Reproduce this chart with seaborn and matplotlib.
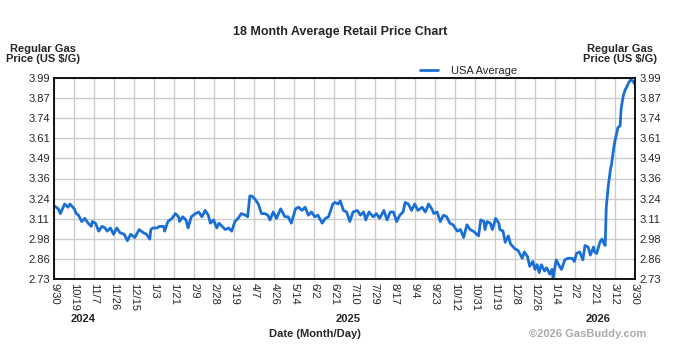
import numpy as np
import pandas as pd
import matplotlib
matplotlib.use("Agg")
import matplotlib.pyplot as plt
import seaborn as sns

# days since 9/30/2024 and average regular gas price
days = [0, 4, 6, 10, 13, 15, 19, 21, 23, 26,
        29, 32, 35, 36, 39, 42, 45, 48, 50, 53,
        56, 59, 62, 66, 69, 72, 76, 80, 84, 87,
        90, 91, 93, 97, 99, 103, 104, 107, 111, 114,
        117, 118, 121, 124, 126, 129, 133, 136, 139, 142,
        145, 147, 150, 153, 155, 158, 161, 164, 167, 170,
        173, 176, 180, 182, 184, 186, 189, 192, 195, 198,
        201, 203, 206, 209, 213, 217, 220, 223, 227, 230,
        233, 236, 239, 242, 245, 248, 252, 255, 258, 262,
        264, 267, 269, 272, 275, 278, 281, 285, 288, 291,
        293, 296, 300, 303, 306, 310, 313, 316, 319, 322,
        325, 328, 330, 333, 336, 339, 342, 346, 349, 352,
        355, 357, 360, 363, 366, 369, 372, 375, 379, 382,
        385, 388, 391, 394, 399, 401, 404, 405, 407, 410,
        412, 415, 418, 419, 422, 424, 427, 429, 433, 436,
        440, 442, 445, 447, 450, 452, 454, 456, 458, 461,
        463, 466, 468, 469, 472, 475, 477, 480, 483, 487,
        489, 491, 494, 497, 499, 502, 504, 507, 508, 510,
        513, 515, 517, 518, 519, 521, 523, 524, 526, 527,
        529, 530, 532, 533, 535, 537, 538, 540, 542, 544,
        546]
price = [3.19, 3.17, 3.14, 3.20, 3.18, 3.20, 3.17, 3.14, 3.13, 3.09,
         3.11, 3.08, 3.06, 3.09, 3.08, 3.03, 3.06, 3.05, 3.03, 3.05,
         3.01, 3.05, 3.02, 3.01, 2.97, 3.01, 2.99, 3.04, 3.02, 3.01,
         2.98, 3.04, 3.05, 3.05, 3.06, 3.06, 3.03, 3.09, 3.11, 3.14,
         3.12, 3.09, 3.12, 3.10, 3.05, 3.12, 3.14, 3.15, 3.12, 3.16,
         3.13, 3.08, 3.10, 3.05, 3.08, 3.06, 3.04, 3.05, 3.03, 3.09,
         3.11, 3.14, 3.13, 3.12, 3.25, 3.25, 3.23, 3.20, 3.14, 3.14,
         3.13, 3.10, 3.15, 3.11, 3.17, 3.12, 3.12, 3.08, 3.17, 3.18,
         3.16, 3.18, 3.13, 3.15, 3.12, 3.13, 3.08, 3.11, 3.12, 3.20,
         3.21, 3.20, 3.22, 3.16, 3.15, 3.09, 3.15, 3.16, 3.13, 3.15,
         3.10, 3.15, 3.12, 3.14, 3.11, 3.16, 3.10, 3.15, 3.15, 3.09,
         3.13, 3.15, 3.21, 3.20, 3.16, 3.20, 3.16, 3.18, 3.15, 3.20,
         3.17, 3.14, 3.15, 3.09, 3.13, 3.12, 3.08, 3.07, 3.03, 3.04,
         2.99, 3.07, 3.04, 3.03, 3.00, 3.10, 3.09, 3.04, 3.09, 3.08,
         3.04, 3.11, 3.08, 3.04, 3.03, 2.96, 3.00, 2.95, 2.92, 2.91,
         2.86, 2.90, 2.87, 2.81, 2.84, 2.79, 2.82, 2.77, 2.82, 2.78,
         2.80, 2.76, 2.79, 2.74, 2.85, 2.81, 2.79, 2.85, 2.86, 2.86,
         2.84, 2.89, 2.90, 2.85, 2.94, 2.93, 2.88, 2.93, 2.90, 2.89,
         2.96, 2.98, 2.95, 2.94, 3.18, 3.32, 3.42, 3.45, 3.55, 3.59,
         3.65, 3.68, 3.69, 3.80, 3.88, 3.92, 3.93, 3.96, 3.98, 3.97,
         3.95]

x_labels = ['9/30', '10/19', '11/7', '11/26', '12/15', '1/3', '1/21', '2/9', '2/28', '3/19',
            '4/7', '4/26', '5/14', '6/2', '6/21', '7/10', '7/29', '8/17', '9/4', '9/23',
            '10/12', '10/31', '11/19', '12/8', '12/26', '1/14', '2/2', '2/21', '3/12', '3/30']
y_labels = ['2.73', '2.86', '2.98', '3.11', '3.24', '3.36', '3.49', '3.61', '3.74', '3.87', '3.99']
years = ['2024', '2025', '2026']
year_pos = [27, 276, 511]  # days, where the year label sits

df = pd.DataFrame({'Day': days, 'Price': price})

sns.set_style("white")
plt.rcParams['font.family'] = ['Liberation Sans', 'DejaVu Sans']

fig = plt.figure(figsize=(6.93, 3.56), dpi=100)
ax = fig.add_axes([54/693, 1-279/356, 581/693, 201/356])

sns.lineplot(data=df, x='Day', y='Price', ax=ax, color='#1a6fd4', linewidth=2,
             label='USA Average')

ax.set_xlim(0, 546)
ax.set_ylim(2.73, 3.99)
xt = np.linspace(0, 546, len(x_labels))
yt = np.linspace(2.73, 3.99, len(y_labels))
ax.set_xticks(xt)
ax.set_xticklabels(x_labels, rotation=-90, fontsize=8)
ax.set_yticks(yt)
ax.set_yticklabels(y_labels, fontsize=8)
ax.tick_params(axis='y', labelright=True, length=0, pad=3)
ax.tick_params(axis='x', length=0, pad=3)
ax.grid(True, color='#cccccc', linewidth=1)
for s in ax.spines.values():
    s.set_color('black')
    s.set_linewidth(1.3)
ax.set_xlabel('')
ax.set_ylabel('')

leg = ax.legend(loc='lower left', bbox_to_anchor=(0.622, 0.99), frameon=False,
                fontsize=8, handlelength=1.6, handletextpad=1.2, borderaxespad=0)

for yr, d in zip(years, year_pos):
    ax.text(d, -0.2, yr, transform=ax.get_xaxis_transform(), ha='center', va='center',
            fontsize=8, fontweight='bold')

fig.text(340/693, 1-32/356, '18 Month Average Retail Price Chart', ha='center', va='center',
         fontsize=9, fontweight='bold')
fig.text(43/693, 1-54/356, 'Regular Gas\nPrice (US $/G)', ha='center', va='center',
         fontsize=8, fontweight='bold', linespacing=1.0)
fig.text(620/693, 1-54/356, 'Regular Gas\nPrice (US $/G)', ha='center', va='center',
         fontsize=8, fontweight='bold', linespacing=1.0)
fig.text(315/693, 1-334/356, 'Date (Month/Day)', ha='center', va='center',
         fontsize=8, fontweight='bold')
fig.text(646/693, 1-334/356, '\u00a92026 GasBuddy.com', ha='right', va='center',
         fontsize=8, fontweight='bold', color='#aaaaaa')

plt.savefig('out.png', dpi=100)
